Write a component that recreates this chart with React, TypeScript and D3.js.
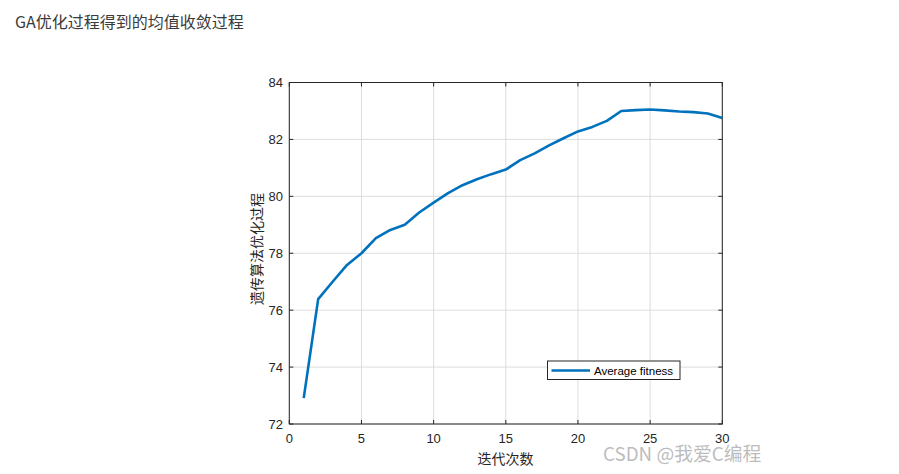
import React from "react";
import * as d3 from "d3";

const iterations = [1,2,3,4,5,6,7,8,9,10,11,12,13,14,15,16,17,18,19,20,21,22,23,24,25,26,27,28,29,30];
const avgFitness = [72.91,76.39,77.0,77.59,78.0,78.53,78.82,79.0,79.43,79.78,80.11,80.39,80.6,80.78,80.94,81.27,81.51,81.79,82.04,82.28,82.44,82.65,83.0,83.03,83.05,83.02,82.98,82.96,82.91,82.75];
const xTicks = [0,5,10,15,20,25,30];
const yTicks = [72,74,76,78,80,82,84];
const titleText = "GA优化过程得到的均值收敛过程";
const xLabel = "迭代次数";
const yLabel = "遗传算法优化过程";
const legendLabel = "Average fitness";
const watermark = "CSDN @我爱C编程";

export default function App() {
  const W = 899, H = 474;
  const L = 289.3, R = 722.3, T = 82.5, B = 424;
  const x = d3.scaleLinear().domain([0, 30]).range([L, R]);
  const y = d3.scaleLinear().domain([72, 84]).range([B, T]);
  const line = d3.line<number>().x((_, i) => x(iterations[i])).y((d) => y(d));
  const axisColor = "#262626";
  const font = "'Liberation Sans', Arial, sans-serif";
  const cjk = "'Noto Sans CJK SC', sans-serif";
  return (
    <svg width={W} height={H} style={{ position: "absolute", left: 0, top: 0, background: "#fff" }}>
      <rect x={0} y={0} width={W} height={H} fill="#fff" />
      <text x={15} y={28} fontSize={16} fill="#3a3a3a" fontFamily={cjk}>{titleText}</text>
      {/* grid */}
      {xTicks.map((t) => (
        <line key={"gx" + t} x1={x(t)} x2={x(t)} y1={T} y2={B} stroke="#dcdcdc" strokeWidth={1} />
      ))}
      {yTicks.map((t) => (
        <line key={"gy" + t} x1={L} x2={R} y1={y(t)} y2={y(t)} stroke="#dcdcdc" strokeWidth={1} />
      ))}
      {/* ticks inward */}
      {xTicks.map((t) => (
        <g key={"tx" + t}>
          <line x1={x(t)} x2={x(t)} y1={B} y2={B - 4} stroke={axisColor} />
          <line x1={x(t)} x2={x(t)} y1={T} y2={T + 4} stroke={axisColor} />
          <text x={x(t)} y={443} fontSize={13} textAnchor="middle" fill={axisColor} fontFamily={font}>{t}</text>
        </g>
      ))}
      {yTicks.map((t) => (
        <g key={"ty" + t}>
          <line x1={L} x2={L + 4} y1={y(t)} y2={y(t)} stroke={axisColor} />
          <line x1={R} x2={R - 4} y1={y(t)} y2={y(t)} stroke={axisColor} />
          <text x={283} y={y(t) + 4.5} fontSize={13} textAnchor="end" fill={axisColor} fontFamily={font}>{t}</text>
        </g>
      ))}
      <rect x={L} y={T} width={R - L} height={B - T} fill="none" stroke={axisColor} strokeWidth={1} />
      <path d={line(avgFitness) || ""} fill="none" stroke="#0072BD" strokeWidth={2.6} strokeLinejoin="round" />
      {/* legend */}
      <rect x={547.5} y={361} width={132.5} height={18.5} fill="#fff" stroke={axisColor} strokeWidth={1} />
      <line x1={551.5} x2={590} y1={370.5} y2={370.5} stroke="#0072BD" strokeWidth={2.6} />
      <text x={594} y={374.5} fontSize={11.5} fill="#000" fontFamily={font}>{legendLabel}</text>
      {/* axis labels */}
      <text x={505.5} y={464} fontSize={14} textAnchor="middle" fill={axisColor} fontFamily={cjk}>{xLabel}</text>
      <text transform={`translate(262,249) rotate(-90)`} fontSize={14} textAnchor="middle" fill={axisColor} fontFamily={cjk}>{yLabel}</text>
      <text x={603} y={461} fontSize={18.8} fill="#b0b0b0" fillOpacity={0.85} fontFamily={cjk}>{watermark}</text>
    </svg>
  );
}
